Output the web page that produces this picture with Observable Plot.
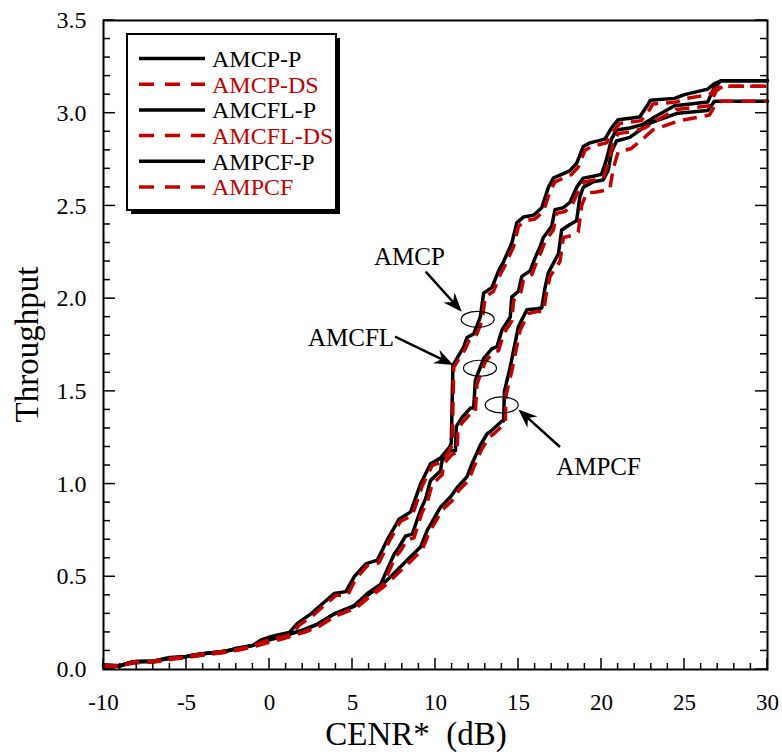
<!DOCTYPE html>
<html><head><meta charset="utf-8">
<script src="https://cdn.jsdelivr.net/npm/d3@7"></script>
<script src="https://cdn.jsdelivr.net/npm/@observablehq/plot@0.6"></script>
<style>body{margin:0;background:#fff} svg{display:block}</style>
</head><body><div id="chart"></div>
<script>
const FONT = '"Liberation Serif","Times New Roman",Times,serif';
const RED = "#c40000";

// ---- data: [CENR* dB, throughput] ----
const amcpP = [[-10,0.02],[-9,0.02],[-8.5,0.035],[-8,0.045],[-7,0.045],[-6.5,0.055],[-6,0.065],[-5,0.07],[-4.5,0.08],[-3.5,0.09],[-2.5,0.1],[-2,0.115],[-1,0.13],[-0.5,0.16],[0,0.175],[0.7,0.19],[1.2,0.2],[1.7,0.25],[2.5,0.3],[3.0,0.34],[3.9,0.41],[4.6,0.42],[5.1,0.5],[5.8,0.57],[6.5,0.59],[7.1,0.7],[7.8,0.81],[8.5,0.85],[9.1,1.0],[9.7,1.11],[10.3,1.14],[10.85,1.2],[10.95,1.22],[11.05,1.64],[11.7,1.74],[11.9,1.79],[12.3,1.81],[12.7,1.9],[12.9,2.03],[13.4,2.06],[13.8,2.15],[14.1,2.2],[14.6,2.3],[14.9,2.41],[15.3,2.44],[15.9,2.45],[16.4,2.49],[16.8,2.6],[17.1,2.65],[17.6,2.67],[18.1,2.69],[18.5,2.73],[18.9,2.82],[19.3,2.84],[20.2,2.86],[20.6,2.92],[21.0,2.965],[22.3,2.98],[22.75,3.04],[22.95,3.07],[24.4,3.08],[25.0,3.1],[26.4,3.13],[26.8,3.16],[27.2,3.175],[30,3.175]];
const amcpDS = [[-10,0.015],[-9,0.02],[-8.4,0.035],[-7.9,0.04],[-7,0.045],[-6.4,0.055],[-5.9,0.06],[-5,0.07],[-4.4,0.08],[-3.4,0.09],[-2.4,0.1],[-1.9,0.11],[-1,0.125],[-0.4,0.15],[0.1,0.165],[0.8,0.175],[1.3,0.19],[1.8,0.24],[2.6,0.29],[3.1,0.33],[4.0,0.4],[4.7,0.4],[5.2,0.49],[5.9,0.56],[6.6,0.575],[7.2,0.69],[7.9,0.8],[8.6,0.83],[9.2,0.99],[9.8,1.1],[10.4,1.12],[10.9,1.19],[11.0,1.21],[11.1,1.63],[11.8,1.73],[12.0,1.77],[12.4,1.79],[12.8,1.88],[13.0,2.01],[13.5,2.04],[13.9,2.13],[14.2,2.18],[14.7,2.28],[15.0,2.39],[15.4,2.42],[16.0,2.43],[16.5,2.47],[16.9,2.58],[17.2,2.63],[17.7,2.65],[18.2,2.67],[18.6,2.71],[19.0,2.8],[19.4,2.82],[20.3,2.84],[20.7,2.9],[21.1,2.945],[22.4,2.96],[22.9,3.02],[23.1,3.05],[24.5,3.06],[25.1,3.08],[26.5,3.1],[26.9,3.135],[27.3,3.145],[30,3.145]];
const amcflP = [[-10,0.025],[-9,0.02],[-8.3,0.04],[-7,0.045],[-6,0.06],[-5,0.07],[-4,0.085],[-3,0.095],[-2,0.11],[-1,0.13],[0,0.17],[0.7,0.18],[1.5,0.2],[2.0,0.21],[2.9,0.245],[3.9,0.3],[5.1,0.345],[5.9,0.41],[6.7,0.46],[6.9,0.5],[7.5,0.62],[7.8,0.66],[8.2,0.72],[8.6,0.73],[9.1,0.86],[9.4,0.92],[9.7,1.02],[10.3,1.07],[10.4,1.13],[10.9,1.18],[11.2,1.18],[11.25,1.31],[11.6,1.36],[12.1,1.41],[12.3,1.41],[12.4,1.56],[12.9,1.676],[13.4,1.73],[13.7,1.74],[14.0,1.83],[14.5,1.9],[14.6,2.01],[15.0,2.04],[15.2,2.12],[15.7,2.15],[16.0,2.22],[16.3,2.28],[16.5,2.33],[17.0,2.39],[17.2,2.48],[17.7,2.49],[18.1,2.52],[18.5,2.6],[18.9,2.65],[19.5,2.66],[20.0,2.67],[20.3,2.75],[20.6,2.86],[20.9,2.91],[21.7,2.92],[22.5,2.94],[23.2,2.98],[24.4,3.04],[26.4,3.06],[26.8,3.14],[27.2,3.175],[30,3.175]];
const amcflDS = [[-10,0.02],[-9,0.02],[-8.2,0.04],[-7,0.04],[-5.9,0.06],[-5,0.065],[-3.9,0.08],[-2.9,0.09],[-1.9,0.105],[-0.9,0.125],[0.1,0.16],[0.8,0.17],[1.6,0.19],[2.1,0.2],[3.0,0.235],[4.0,0.29],[5.2,0.335],[6.0,0.4],[6.8,0.45],[7.0,0.49],[7.6,0.61],[7.9,0.64],[8.3,0.7],[8.7,0.71],[9.2,0.85],[9.5,0.9],[9.8,1.0],[10.4,1.05],[10.5,1.11],[11.0,1.16],[11.3,1.17],[11.35,1.3],[11.7,1.34],[12.2,1.39],[12.4,1.39],[12.5,1.54],[13.0,1.66],[13.5,1.71],[13.8,1.72],[14.1,1.81],[14.6,1.88],[14.7,1.99],[15.1,2.02],[15.3,2.1],[15.8,2.13],[16.1,2.2],[16.4,2.26],[16.6,2.31],[17.1,2.37],[17.3,2.46],[17.8,2.47],[18.2,2.5],[18.6,2.58],[19.0,2.63],[19.6,2.64],[20.1,2.65],[20.4,2.73],[20.7,2.84],[21.0,2.89],[21.8,2.9],[22.6,2.92],[23.3,2.96],[24.5,3.02],[26.5,3.04],[26.9,3.12],[27.3,3.145],[30,3.145]];
const ampcfP = [[-10,0.02],[-9,0.02],[-8.3,0.04],[-7,0.045],[-6,0.06],[-5,0.07],[-4,0.085],[-3,0.095],[-2,0.11],[-1,0.13],[0,0.16],[0.7,0.175],[1.9,0.21],[2.9,0.245],[3.9,0.3],[5.1,0.34],[5.9,0.4],[6.7,0.45],[7.3,0.5],[8.3,0.59],[9.1,0.66],[9.5,0.75],[10.3,0.875],[10.9,0.93],[11.3,0.98],[11.9,1.04],[12.2,1.11],[12.7,1.21],[13.1,1.27],[13.4,1.29],[14.0,1.34],[14.1,1.34],[14.15,1.5],[14.5,1.63],[14.7,1.72],[15.0,1.85],[15.5,1.94],[16.1,1.945],[16.4,1.95],[16.6,2.06],[16.8,2.14],[17.1,2.19],[17.4,2.24],[17.6,2.37],[18.1,2.4],[18.5,2.42],[18.7,2.55],[18.9,2.6],[19.5,2.63],[20.1,2.64],[20.4,2.69],[20.6,2.79],[20.9,2.85],[21.7,2.87],[22.5,2.92],[23.0,2.95],[24.6,3.0],[26.4,3.015],[26.8,3.064],[30,3.064]];
const ampcfDS = [[-10,0.015],[-9,0.02],[-8.2,0.035],[-7,0.04],[-5.9,0.055],[-5,0.065],[-3.9,0.08],[-2.9,0.09],[-1.9,0.105],[-0.9,0.125],[0.1,0.15],[0.8,0.165],[2.0,0.2],[3.0,0.235],[4.0,0.29],[5.2,0.33],[6.0,0.39],[6.8,0.44],[7.4,0.49],[8.4,0.575],[9.2,0.645],[9.6,0.735],[10.4,0.86],[11.0,0.91],[11.4,0.965],[12.0,1.02],[12.3,1.09],[12.8,1.19],[13.2,1.25],[13.5,1.27],[14.1,1.32],[14.2,1.33],[14.25,1.48],[14.6,1.61],[14.8,1.7],[15.1,1.83],[15.6,1.92],[16.1,1.93],[16.5,1.93],[16.7,2.04],[16.9,2.12],[17.2,2.16],[17.5,2.2],[17.7,2.33],[18.2,2.34],[18.6,2.36],[18.8,2.5],[19.1,2.57],[19.7,2.575],[20.5,2.59],[20.7,2.7],[21.0,2.79],[21.8,2.81],[22.6,2.87],[23.1,2.91],[24.7,2.96],[26.5,2.99],[26.9,3.05],[27.2,3.064],[30,3.064]];

const seriesNames = ["AMCP-P","AMCP-DS","AMCFL-P","AMCFL-DS","AMPCF-P","AMPCF"];
const seriesData  = [amcpP, amcpDS, amcflP, amcflDS, ampcfP, ampcfDS];
const seriesDashed = [false, true, false, true, false, true];

const xTickLabels = [-10,-5,0,5,10,15,20,25,30];
const yTickLabels = [0,0.5,1.0,1.5,2.0,2.5,3.0,3.5];

const annotLabels = [
  {label:"AMCP",  x:8.43,  y:2.225},
  {label:"AMCFL", x:4.91,  y:1.79},
  {label:"AMPCF", x:19.82, y:1.09}
];
const ellipseCenters = [[12.57,1.886],[12.71,1.622],[14.02,1.424]];
const arrowsData = [
  {x1:9.44,  y1:2.143, x2:11.61, y2:1.927},
  {x1:7.59,  y1:1.792, x2:11.10, y2:1.64},
  {x1:17.53, y1:1.197, x2:15.02, y2:1.40}
];

// draw black solid first, red dashed above
const order = [0,2,4,1,3,5];
const lineMarks = order.map(i => Plot.line(seriesData[i], {
  x: d => d[0], y: d => d[1],
  stroke: seriesDashed[i] ? RED : "black",
  strokeWidth: 3.5,
  strokeDasharray: seriesDashed[i] ? "14,8" : null,
  strokeLinecap: seriesDashed[i] ? "butt" : "round",
  strokeLinejoin: "round"
}));

const plot = Plot.plot({
  width: 782, height: 752,
  marginLeft: 103, marginRight: 15, marginTop: 20, marginBottom: 83,
  style: {fontFamily: FONT, background: "white", color: "black", fontSize: "23px"},
  x: {domain: [-10, 30]},
  y: {domain: [0, 3.5]},
  marks: [
    Plot.axisX(xTickLabels, {tickSize: 0, tickPadding: 24, fontSize: 23, tickFormat: d => String(d), label: null}),
    Plot.axisY(yTickLabels, {tickSize: 0, tickPadding: 17, fontSize: 24, tickFormat: d3.format(".1f"), label: null}),
    ...lineMarks,
    Plot.text(annotLabels, {x: "x", y: "y", text: "label", fontSize: 25, fill: "black", fontFamily: FONT}),
    Plot.frame({stroke: "black", strokeWidth: 2})
  ]
});

const svg = d3.select(plot);
const sx = plot.scale("x"), sy = plot.scale("y");
const X = v => sx.apply(v), Y = v => sy.apply(v);
const L = X(-10), R = X(30), T = Y(3.5), B = Y(0);

// inward ticks
const tg = svg.append("g").attr("stroke", "black").attr("stroke-width", 1.5);
d3.range(-10, 31, 1).forEach(v => {
  const len = v % 5 === 0 ? 11 : 6;
  tg.append("line").attr("x1", X(v)).attr("x2", X(v)).attr("y1", B).attr("y2", B - len);
});
d3.range(0, 36, 1).forEach(k => {
  const v = k / 10;
  const len = k % 5 === 0 ? 12 : 7;
  tg.append("line").attr("x1", L).attr("x2", L + len).attr("y1", Y(v)).attr("y2", Y(v));
  tg.append("line").attr("x1", R).attr("x2", R - len).attr("y1", Y(v)).attr("y2", Y(v));
});

// ellipses
svg.append("g").selectAll("ellipse").data(ellipseCenters).join("ellipse")
  .attr("cx", d => X(d[0])).attr("cy", d => Y(d[1])).attr("rx", 16.5).attr("ry", 8)
  .attr("fill", "none").attr("stroke", "black").attr("stroke-width", 1.2);

// arrows
const ag = svg.append("g");
arrowsData.forEach(a => {
  const x1 = X(a.x1), y1 = Y(a.y1), x2 = X(a.x2), y2 = Y(a.y2);
  const ang = Math.atan2(y2 - y1, x2 - x1);
  const hl = 19, hw = 7.5, notch = 13;
  const ux = Math.cos(ang), uy = Math.sin(ang);
  const bx = x2 - ux * hl, by = y2 - uy * hl;
  const nx = x2 - ux * notch, ny = y2 - uy * notch;
  ag.append("line").attr("x1", x1).attr("y1", y1).attr("x2", nx).attr("y2", ny)
    .attr("stroke", "black").attr("stroke-width", 2.5);
  ag.append("path").attr("d",
    `M${x2},${y2}L${bx - uy * hw},${by + ux * hw}L${nx},${ny}L${bx + uy * hw},${by - ux * hw}Z`)
    .attr("fill", "black");
});

// legend
const lg = svg.append("g").attr("font-family", FONT).attr("text-anchor", "start");
lg.append("rect").attr("x", L + 28).attr("y", T + 18).attr("width", 209).attr("height", 176).attr("fill", "black");
lg.append("rect").attr("x", L + 24).attr("y", T + 14).attr("width", 209).attr("height", 176)
  .attr("fill", "white").attr("stroke", "black").attr("stroke-width", 2);
seriesNames.forEach((name, i) => {
  const yy = T + 38.5 + i * 25.7;
  const col = seriesDashed[i] ? RED : "black";
  lg.append("line").attr("x1", L + 36).attr("x2", L + 102).attr("y1", yy).attr("y2", yy)
    .attr("stroke", col).attr("stroke-width", 3.5)
    .attr("stroke-dasharray", seriesDashed[i] ? "15,11" : null);
  lg.append("text").attr("x", L + 109).attr("y", yy).attr("dy", "0.35em")
    .attr("text-anchor", "start").attr("font-size", 24).attr("fill", col).text(name);
});

// axis titles
svg.append("text").attr("transform", `translate(38,${(T + B) / 2}) rotate(-90)`)
  .attr("text-anchor", "middle").attr("font-family", FONT).attr("font-size", 33).text("Throughput");
svg.append("text").attr("x", 416).attr("y", 745).attr("text-anchor", "middle")
  .attr("font-family", FONT).attr("font-size", 33).attr("xml:space", "preserve")
  .style("white-space", "pre").text("CENR*  (dB)");

document.getElementById("chart").appendChild(plot);
</script>
</body></html>
